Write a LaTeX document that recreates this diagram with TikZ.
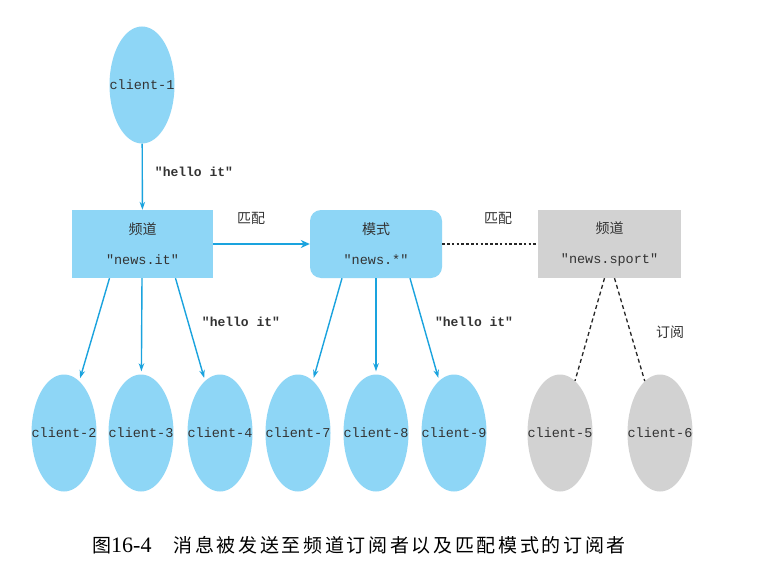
\documentclass[tikz,border=0pt]{standalone}
\usepackage{fontspec}
\setmainfont{Liberation Serif}
\setmonofont{Liberation Mono}
\newfontfamily\cjk{Noto Sans CJK SC}
\newfontfamily\cjkcap{Noto Sans CJK SC}[LetterSpace=14]
\usetikzlibrary{shapes.geometric,arrows.meta}
\definecolor{lblue}{HTML}{8ED6F6}
\definecolor{ablue}{HTML}{1AA3DE}
\definecolor{lgray}{HTML}{D2D2D2}
\definecolor{tgray}{HTML}{333333}
\newcommand{\zw}[1]{\makebox[0pt]{#1}}
\tikzset{
  client/.style={ellipse, fill=lblue, draw=none, minimum width=65pt, minimum height=117pt, inner sep=0pt, text=tgray, font=\ttfamily\fontsize{13.5}{15}\selectfont},
  gclient/.style={client, fill=lgray},
  chbox/.style={rectangle, fill=lblue, minimum width=141pt, minimum height=68pt, inner sep=0pt, align=center, text=tgray, font=\fontsize{13.5}{30}\selectfont},
  conn/.style={draw=ablue, line width=1.4pt, -{Stealth[length=8pt,width=5.5pt]}, shorten >=3pt},
  dconn/.style={draw=black!85, line width=1.3pt, dash pattern=on 4pt off 3pt},
  lbl/.style={text=tgray, font=\ttfamily\bfseries\fontsize{13}{14}\selectfont},
  cnlbl/.style={text=tgray, font=\cjk\fontsize{14}{15}\selectfont},
}
\begin{document}
\begin{tikzpicture}[x=1pt,y=-1pt]
\useasboundingbox[fill=white] (0,0) rectangle (762,572);
% top client
\node[client] (c1) at (142,85) {\zw{client-1}};
% boxes
\node[chbox] (nit) at (142.5,244) {{\cjk\fontsize{14}{30}\selectfont 频道}\\\texttt{"news.it"}};
\node[chbox, rounded corners=11pt, minimum width=132pt] (pat) at (376,244) {{\cjk\fontsize{14}{30}\selectfont 模式}\\\texttt{"news.*"}};
\node[chbox, fill=lgray, minimum width=143pt] (nsp) at (609.5,244) {{\cjk\fontsize{14}{30}\selectfont 频道}\\\texttt{"news.sport"}};
% bottom clients
\node[client] (c2) at (64,433) {\zw{client-2}};
\node[client] (c3) at (141,433) {\zw{client-3}};
\node[client] (c4) at (220,433) {\zw{client-4}};
\node[client] (c7) at (298,433) {\zw{client-7}};
\node[client] (c8) at (376,433) {\zw{client-8}};
\node[client] (c9) at (454,433) {\zw{client-9}};
\node[gclient] (c5) at (560,433) {\zw{client-5}};
\node[gclient] (c6) at (660,433) {\zw{client-6}};
% connectors
\draw[conn, shorten >=0pt] (c1) -- (nit);
\draw[draw=ablue, line width=2.8pt, -{Stealth[length=9pt,width=8pt]}] (nit) -- (pat);
\draw[line width=2.6pt, dash pattern=on 2.6pt off 2.2pt, black!85] (pat) -- (nsp);
\draw[conn] ([xshift=-33pt]nit.south) -- (c2);
\draw[conn] ([xshift=-0.5pt]nit.south) -- (c3);
\draw[conn] ([xshift=33pt]nit.south) -- (c4);
\draw[conn] ([xshift=-34pt]pat.south) -- (c7);
\draw[conn] (pat.south) -- (c8);
\draw[conn] ([xshift=34pt]pat.south) -- (c9);
\draw[dconn] ([xshift=-5pt]nsp.south) -- (c5);
\draw[dconn] ([xshift=5pt]nsp.south) -- (c6);
% labels
\node[lbl] (l1) at (194,172) {"hello it"};
\node[lbl] (l2) at (241,322) {"hello it"};
\node[lbl] (l3) at (474,322) {"hello it"};
\node[cnlbl] (m1) at (251,218) {匹配};
\node[cnlbl] (m2) at (498,218) {匹配};
\node[cnlbl] (s1) at (670,332) {订阅};
% caption
\node[anchor=west, text=black, inner sep=0pt, font=\fontsize{22}{24}\selectfont] (cap) at (92,545) {{\cjkcap\fontsize{19}{24}\selectfont 图}16-4\hspace{22pt}{\cjkcap\fontsize{19}{24}\selectfont 消息被发送至频道订阅者以及匹配模式的订阅者}};
\end{tikzpicture}
\end{document}
